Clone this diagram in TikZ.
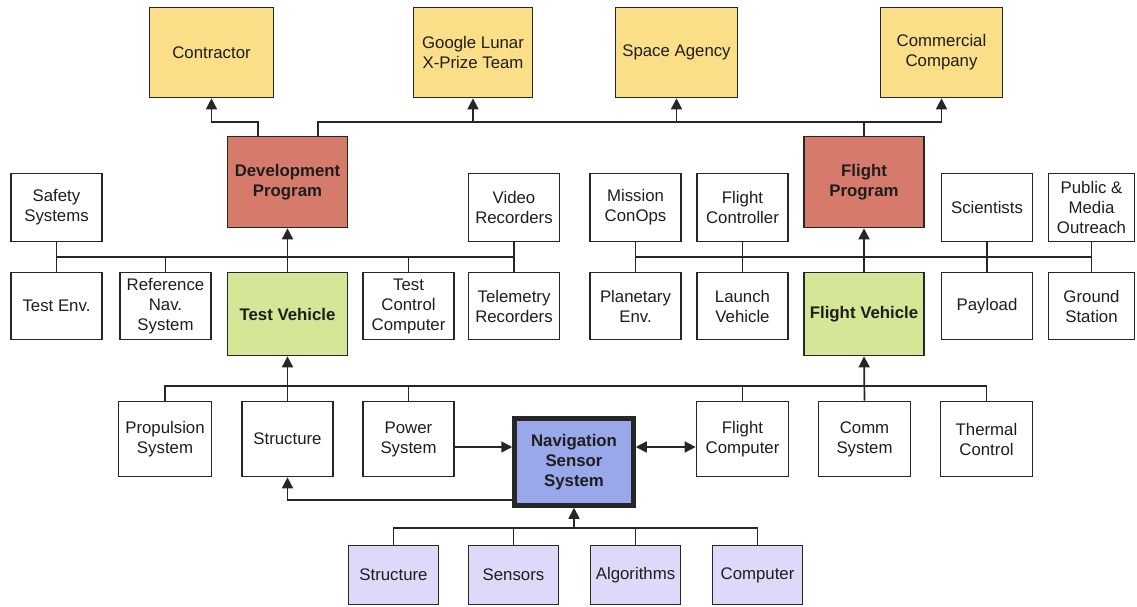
\documentclass[tikz,border=0pt]{standalone}
\usepackage{fontspec}
\setmainfont{Liberation Sans}
\usetikzlibrary{arrows.meta}

\definecolor{linegray}{RGB}{38,38,38}
\definecolor{textdark}{RGB}{30,30,30}
\definecolor{partyfill}{RGB}{250,222,136}
\definecolor{progfill}{RGB}{214,122,108}
\definecolor{vehfill}{RGB}{212,231,150}
\definecolor{nssfill}{RGB}{152,168,234}
\definecolor{partfill}{RGB}{222,216,249}

\begin{document}
\begin{tikzpicture}[x=1pt, y=-1pt,
    box/.style={draw=linegray, line width=1.7pt, fill=white, align=center, inner sep=0pt,
        text=textdark, font=\fontsize{16.8}{20}\selectfont},
    party/.style={box, fill=partyfill, minimum height=90pt},
    prog/.style={box, fill=progfill, font=\fontsize{16.8}{20}\selectfont\bfseries, minimum width=120pt, minimum height=91pt},
    veh/.style={box, fill=vehfill, font=\fontsize{16.8}{20}\selectfont\bfseries, minimum width=120pt, minimum height=83pt},
    ctx/.style={box, minimum width=91pt, minimum height=68pt},
    sub/.style={box, minimum width=91pt, minimum height=75pt},
    part/.style={box, fill=partfill, minimum width=90pt, minimum height=59pt},
    wire/.style={draw=linegray, line width=1.7pt},
    arr/.style={wire, -{Triangle[width=11pt,length=11pt]}},
    biarr/.style={wire, {Triangle[width=11pt,length=11pt]}-{Triangle[width=11pt,length=11pt]}}]
    \useasboundingbox (0,0) rectangle (1137,607);

    % Stakeholders
    \draw (211.5,52.5) node[party, minimum width=124pt] (contractor) {Contractor};
    \draw (473,52.5)   node[party, minimum width=119pt] (google) {Google Lunar\\X-Prize Team};
    \draw (676.5,52.5) node[party, minimum width=122pt] (agency) {Space Agency};
    \draw (941.5,52.5) node[party, minimum width=122pt] (commercial) {Commercial\\Company};

    % Programs
    \draw (287.5,182) node[prog] (devprog) {Development\\Program};
    \draw (864,182)   node[prog] (flightprog) {Flight\\Program};

    % Context, test side
    \draw (56.5,207.5) node[ctx] (safety) {Safety\\Systems};
    \draw (514,207.5)  node[ctx] (video) {Video\\Recorders};
    \draw (56.5,306)   node[ctx, minimum height=67pt] (testenv) {Test Env.};
    \draw (165.5,306)  node[ctx, minimum height=67pt] (refnav) {Reference\\Nav.\\System};
    \draw (287.5,314)  node[veh] (testveh) {Test Vehicle};
    \draw (408.5,306)  node[ctx, minimum height=67pt] (testctrl) {Test\\Control\\Computer};
    \draw (514,306)    node[ctx, minimum height=67pt] (telemetry) {Telemetry\\Recorders};

    % Context, flight side
    \draw (635.5,207.5) node[ctx] (conops) {Mission\\ConOps};
    \draw (742.5,207.5) node[ctx] (fcontroller) {Flight\\Controller};
    \draw (987,207.5)   node[ctx] (scientists) {Scientists};
    \draw (1091.5,207.5) node[ctx, minimum width=86pt] (outreach) {Public \&\\Media\\Outreach};
    \draw (635.5,306)   node[ctx, minimum height=67pt] (planetenv) {Planetary\\Env.};
    \draw (742.5,306)   node[ctx, minimum height=67pt] (launchveh) {Launch\\Vehicle};
    \draw (864,314)     node[veh] (flightveh) {Flight Vehicle};
    \draw (987,306)     node[ctx, minimum height=67pt] (payload) {Payload};
    \draw (1091.5,306)  node[ctx, minimum width=86pt, minimum height=67pt] (groundst) {Ground\\Station};

    % Subsystems
    \draw (165,439)   node[sub, minimum width=93pt] (propulsion) {Propulsion\\System};
    \draw (287.5,439) node[sub] (structure) {Structure};
    \draw (408.5,439) node[sub] (power) {Power\\System};
    \draw (574,462)   node[box, fill=nssfill, line width=4.5pt, minimum width=119pt, minimum height=87pt,
        font=\fontsize{16.8}{20}\selectfont\bfseries] (nss) {Navigation\\Sensor\\System};
    \draw (742.5,439) node[sub, minimum width=92pt] (fcomputer) {Flight\\Computer};
    \draw (864.5,439) node[sub, minimum width=92pt] (comm) {Comm\\System};
    \draw (986.5,439) node[sub, minimum width=92pt] (thermal) {Thermal\\Control};

    % Sensor parts
    \draw (393.5,575) node[part] (pstructure) {Structure};
    \draw (513.5,575) node[part] (sensors) {Sensors};
    \draw (635.5,575) node[part] (algorithms) {Algorithms};
    \draw (757.5,575) node[part] (pcomputer) {Computer};

    % Bus levels
    \coordinate (topbus) at (0,122);
    \coordinate (midbus) at (0,257);
    \coordinate (lowbus) at (0,386);
    \coordinate (partbus) at (0,528);

    % Programs to stakeholders
    \draw[arr] ([xshift=-29.5pt]devprog.north) |- (contractor.south |- topbus) -- (contractor.south);
    \draw[wire] ([xshift=30.5pt]devprog.north) |- (commercial.south |- topbus);
    \draw[wire] (flightprog.north) -- (flightprog.north |- topbus);
    \draw[arr] (google.south |- topbus) -- (google.south);
    \draw[arr] (agency.south |- topbus) -- (agency.south);
    \draw[arr] (commercial.south |- topbus) -- (commercial.south);

    % Test side bus
    \draw[wire] (safety.south) -- (testenv.north);
    \draw[wire] (video.south) -- (telemetry.north);
    \draw[wire] (safety.south |- midbus) -- (video.south |- midbus);
    \draw[wire] (refnav.north) -- (refnav.north |- midbus);
    \draw[wire] (testctrl.north) -- (testctrl.north |- midbus);
    \draw[arr] (testveh.north) -- (devprog.south);

    % Flight side bus
    \draw[wire] (conops.south) -- (planetenv.north);
    \draw[wire] (fcontroller.south) -- (launchveh.north);
    \draw[wire] (scientists.south) -- (payload.north);
    \draw[wire] (outreach.south) -- (groundst.north);
    \draw[wire] (conops.south |- midbus) -- (outreach.south |- midbus);
    \draw[arr] (flightveh.north) -- (flightprog.south);

    % Subsystems to vehicles
    \draw[wire] (propulsion.north) |- (thermal.north |- lowbus) -- (thermal.north);
    \draw[wire] (power.north) -- (power.north |- lowbus);
    \draw[wire] (fcomputer.north) -- (fcomputer.north |- lowbus);
    \draw[arr] (structure.north) -- (testveh.south);
    \draw[arr] (comm.north) -- (flightveh.south);

    % Navigation sensor links
    \draw[arr] ([yshift=-8pt]power.east) -- ([yshift=-8pt]power.east -| nss.west);
    \draw[biarr] ([yshift=-8pt]fcomputer.west -| nss.east) -- ([yshift=-8pt]fcomputer.west);
    \draw[arr] ([yshift=-38pt]nss.west) -| (structure.south);

    % Parts to sensor system
    \draw[wire] (pstructure.north) |- (pcomputer.north |- partbus) -- (pcomputer.north);
    \draw[wire] (sensors.north) -- (sensors.north |- partbus);
    \draw[wire] (algorithms.north) -- (algorithms.north |- partbus);
    \draw[arr] (nss.south |- partbus) -- (nss.south);
\end{tikzpicture}
\end{document}
